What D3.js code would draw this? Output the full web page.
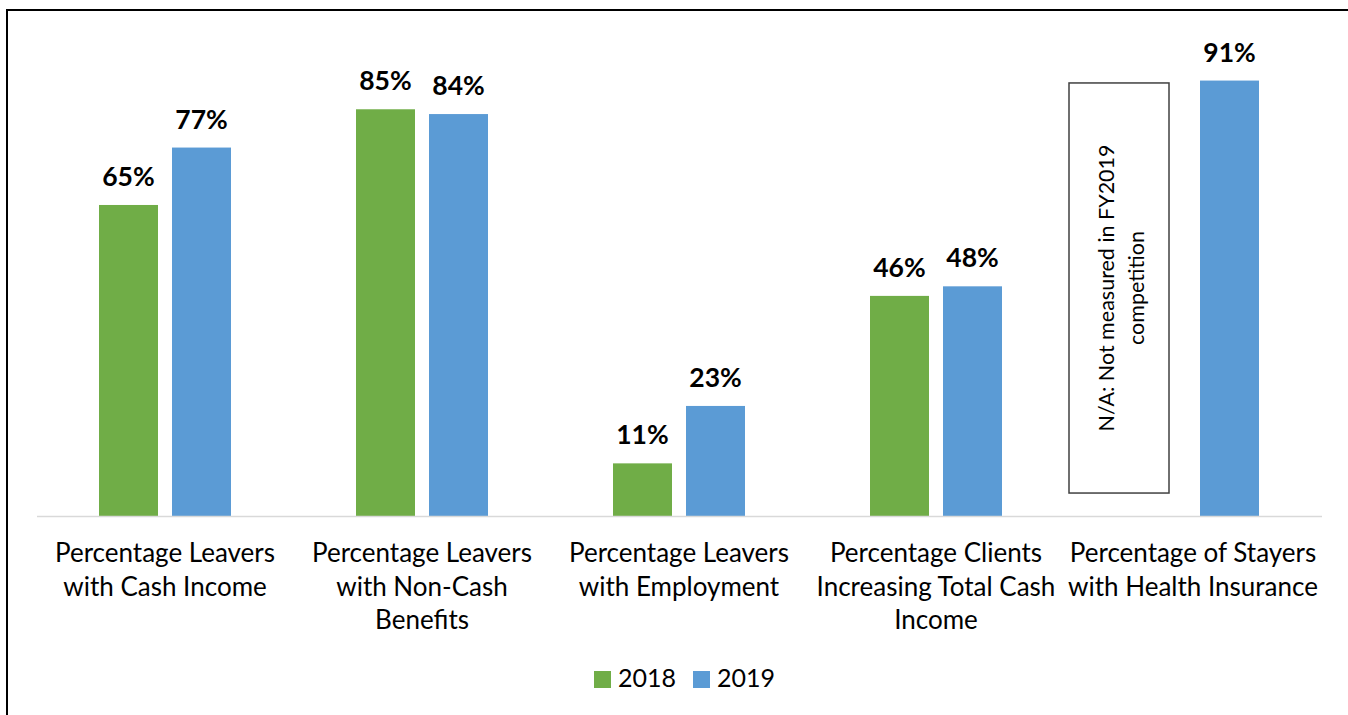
<!DOCTYPE html>
<html>
<head>
<meta charset="utf-8">
<script src="https://cdn.jsdelivr.net/npm/d3@7"></script>
<style>
  html, body { margin: 0; padding: 0; background: #fff; overflow: hidden; }
  svg { display: block; }
  text { font-family: Lato, "Open Sans", sans-serif; fill: #000; }
</style>
</head>
<body>
<svg id="chart" width="1348" height="715"></svg>
<script>
// ---- Data ----
const categories = [
  "Percentage Leavers with Cash Income",
  "Percentage Leavers with Non-Cash Benefits",
  "Percentage Leavers with Employment",
  "Percentage Clients Increasing Total Cash Income",
  "Percentage of Stayers with Health Insurance"
];
const categoryLabelLines = [
  ["Percentage Leavers", "with Cash Income"],
  ["Percentage Leavers", "with Non-Cash", "Benefits"],
  ["Percentage Leavers", "with Employment"],
  ["Percentage Clients", "Increasing Total Cash", "Income"],
  ["Percentage of Stayers", "with Health Insurance"]
];
const seriesNames = ["2018", "2019"];
const values2018 = [65, 85, 11, 46, null];
const values2019 = [77, 84, 23, 48, 91];
const naNoteLines = ["N/A: Not measured in FY2019", "competition"];

const colors = { "2018": "#70AD47", "2019": "#5B9BD5" };

// ---- Layout ----
const svg = d3.select("#chart");
const plot = { left: 36.5, right: 1321.5, top: 37.5, bottom: 516 };

// outer border
svg.append("rect")
  .attr("x", 7).attr("y", 10)
  .attr("width", 1400).attr("height", 800)
  .attr("fill", "none").attr("stroke", "#000").attr("stroke-width", 2);

const x0 = d3.scaleBand().domain(categories).range([plot.left, plot.right]).padding(0);
const groupW = 132;
const x1 = d3.scaleBand().domain(seriesNames)
  .range([x0.bandwidth() / 2 - groupW / 2, x0.bandwidth() / 2 + groupW / 2])
  .paddingInner(0.192).paddingOuter(0);
const y = d3.scaleLinear().domain([0, 100]).range([plot.bottom, plot.top]);

const rows = categories.map((c, i) => ({
  cat: c, i,
  vals: [
    { s: "2018", v: values2018[i] },
    { s: "2019", v: values2019[i] }
  ]
}));

const groups = svg.append("g").selectAll("g").data(rows).join("g")
  .attr("transform", d => `translate(${x0(d.cat)},0)`);

groups.selectAll("rect").data(d => d.vals.filter(v => v.v != null)).join("rect")
  .attr("x", d => x1(d.s))
  .attr("width", x1.bandwidth())
  .attr("y", d => y(d.v))
  .attr("height", d => y(0) - y(d.v))
  .attr("fill", d => colors[d.s]);

groups.selectAll("text.val").data(d => d.vals.filter(v => v.v != null)).join("text")
  .attr("class", "val")
  .attr("x", d => x1(d.s) + x1.bandwidth() / 2)
  .attr("y", d => y(d.v) - 19)
  .attr("text-anchor", "middle")
  .style("font-weight", "bold")
  .style("font-size", "26.5px")
  .text(d => d.v + "%");

// baseline axis
const xAxis = d3.axisBottom(x0).tickSize(0).tickFormat("");
const axG = svg.append("g").attr("transform", `translate(0,${plot.bottom})`).call(xAxis);
axG.select(".domain").attr("stroke", "#d9d9d9").attr("stroke-width", 1.5);

// category labels
const lab = svg.append("g").selectAll("text").data(rows).join("text")
  .attr("text-anchor", "middle")
  .style("font-size", "26px")
  .attr("transform", d => `translate(${x0(d.cat) + x0.bandwidth() / 2},562)`);
lab.selectAll("tspan").data(d => categoryLabelLines[d.i]).join("tspan")
  .attr("x", 0)
  .attr("y", (d, j) => j * 33.5)
  .text(d => d);

// N/A annotation box in place of 2018 bar for last category
const lastCat = categories[categories.length - 1];
const boxX = x0(lastCat) + 4.5, boxW = 100;
const boxTop = y(90.5), boxBottom = y(4.8);
svg.append("rect")
  .attr("x", boxX).attr("y", boxTop)
  .attr("width", boxW).attr("height", boxBottom - boxTop)
  .attr("fill", "#fff").attr("stroke", "#404040").attr("stroke-width", 1.5);
const naText = svg.append("text")
  .attr("text-anchor", "middle")
  .style("font-size", "21.5px")
  .attr("transform", `translate(${boxX + boxW / 2},${(boxTop + boxBottom) / 2}) rotate(-90)`);
naText.selectAll("tspan").data(naNoteLines).join("tspan")
  .attr("x", 0)
  .attr("y", (d, j) => -5 + j * 30)
  .text(d => d);

// legend
const legend = svg.append("g");
const legX = [594, 693];
seriesNames.forEach((s, i) => {
  legend.append("rect").attr("x", legX[i]).attr("y", 671).attr("width", 17).attr("height", 17).attr("fill", colors[s]);
  legend.append("text").attr("x", legX[i] + 24).attr("y", 687).style("font-size", "25px").text(s);
});
</script>
</body>
</html>
